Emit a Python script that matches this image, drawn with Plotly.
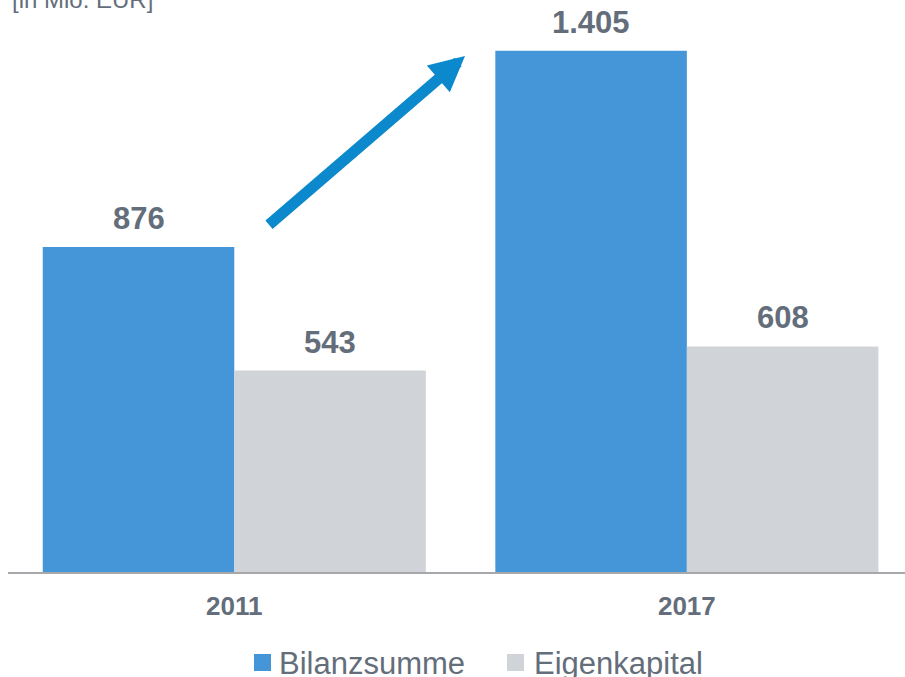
import plotly.graph_objects as go

# ---- data ----
years = ["2011", "2017"]
series_names = ["Bilanzsumme", "Eigenkapital"]
bilanzsumme = [876, 1405]
eigenkapital = [543, 608]
unit_label = "[in Mio. EUR]"

# ---- style ----
BLUE = "#4496d8"
GREY = "#d0d3d7"
ARROW = "#0c89cc"
TEXT = "#646e7a"
FONT = "Liberation Sans, Arial, sans-serif"

W, H = 905, 677
ML, MR, MT, MB = 8, 0, 0, 105
PW, PH = W - ML - MR, H - MT - MB


def px2x(px):
    return (px - ML) / PW


def py2y(py):
    return (H - MB - py) / PH


bar_w = 0.4232
offsets = [-bar_w, 0.0]
colors = [BLUE, GREY]
values = [bilanzsumme, eigenkapital]
xs = list(range(len(years)))

fig = go.Figure()
for name, vals, off, col in zip(series_names, values, offsets, colors):
    fig.add_trace(go.Bar(
        x=xs, y=vals, name=name, width=bar_w, offset=off,
        marker=dict(color=col, line=dict(width=0)),
        showlegend=False, hoverinfo="skip",
    ))


def fmt(v):
    return f"{v:,}".replace(",", ".")


annotations = []
for vals, off in zip(values, offsets):
    for xi, v in zip(xs, vals):
        annotations.append(dict(
            x=xi + off + bar_w / 2, y=v, xref="x", yref="y",
            text=fmt(v), showarrow=False, yanchor="bottom", yshift=9,
            font=dict(family=FONT, size=31, color=TEXT, weight="bold"),
        ))

# unit label (partly cut off at top)
annotations.append(dict(
    x=px2x(11), y=py2y(14), xref="paper", yref="paper",
    text=unit_label, showarrow=False, xanchor="left", yanchor="bottom",
    borderpad=0, font=dict(family=FONT, size=24, color=TEXT),
))

# growth arrow
tip = (465, 56)
tail = (267.5, 226)
annotations.append(dict(
    x=px2x(tip[0]), y=py2y(tip[1]), xref="paper", yref="paper",
    ax=tail[0] - tip[0], ay=tail[1] - tip[1], text="",
    showarrow=True, arrowhead=2, arrowwidth=11, arrowsize=0.64,
    arrowcolor=ARROW, standoff=0, startstandoff=0,
))

# manual legend
shapes = []
legend_sq_x = [254, 507]
legend_tx_x = [278, 533]
for name, col, sx, tx in zip(series_names, colors, legend_sq_x, legend_tx_x):
    shapes.append(dict(
        type="rect", xref="paper", yref="paper",
        x0=px2x(sx), x1=px2x(sx + 17), y0=py2y(671), y1=py2y(654),
        fillcolor=col, line=dict(width=0),
    ))
    annotations.append(dict(
        x=px2x(tx), y=py2y(663), xref="paper", yref="paper",
        text=name, showarrow=False, xanchor="left", yanchor="middle",
        borderpad=0, font=dict(family=FONT, size=31, color=TEXT),
    ))

fig.update_layout(
    width=W, height=H,
    margin=dict(l=ML, r=MR, t=MT, b=MB),
    paper_bgcolor="white", plot_bgcolor="white",
    barmode="overlay",
    showlegend=False,
    hovermode=False,
    annotations=annotations,
    shapes=shapes,
    font=dict(family=FONT, color=TEXT),
)
fig.update_xaxes(
    range=[-0.5, 1.482], tickvals=xs, ticktext=years,
    showgrid=False, zeroline=False, showline=True,
    linecolor="#a6a8ab", linewidth=2, ticks="",
    tickfont=dict(family=FONT, size=26, color=TEXT, weight="bold"),
    ticklabelstandoff=10,
)
fig.update_yaxes(
    range=[0, 1541.8], visible=False, showgrid=False, zeroline=False,
)

fig.write_html(
    "out.html",
    config={"displayModeBar": False, "staticPlot": True},
    post_script="document.body.style.margin='0';document.body.style.overflow='hidden';",
)
